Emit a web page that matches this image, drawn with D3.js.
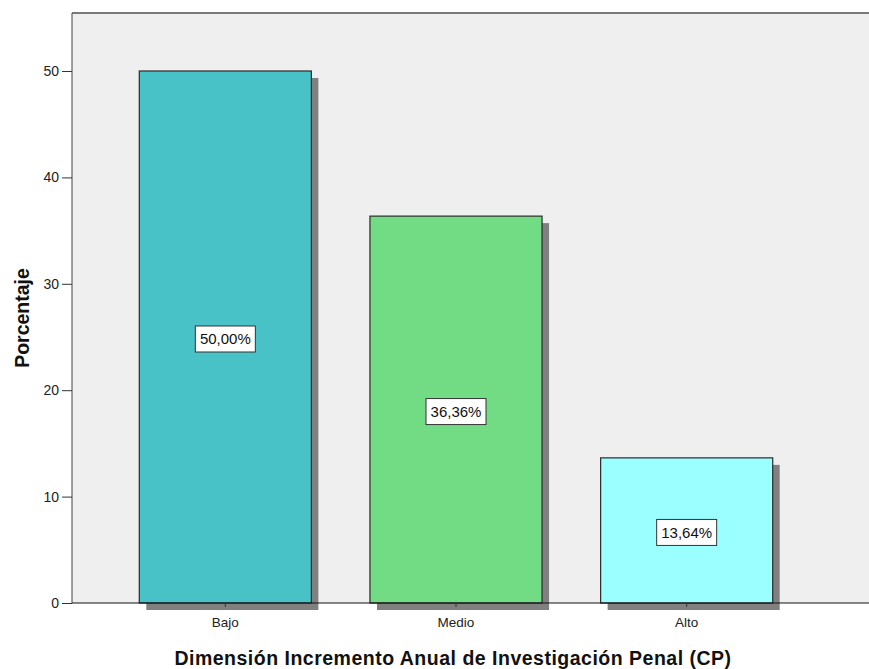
<!DOCTYPE html>
<html>
<head>
<meta charset="utf-8">
<script src="https://cdn.jsdelivr.net/npm/d3@7"></script>
<style>
  body { margin: 0; background: #fff; }
  text { font-family: "Liberation Sans", Arial, sans-serif; }
</style>
</head>
<body>
<div id="chart"></div>
<script>
// datos
const categories = ["Bajo", "Medio", "Alto"]
const percents = [50.0, 36.36, 13.64]
const labels = ["50,00%", "36,36%", "13,64%"]
const colors = ["#48c2c6", "#72dc84", "#9bffff"]
const yTicks = [0, 10, 20, 30, 40, 50]

const width = 869, height = 669
const plot = { left: 72, right: 869, top: 13, bottom: 603 }

const svg = d3.select("#chart").append("svg")
  .attr("width", width)
  .attr("height", height)

// fondo del área de gráfico
svg.append("rect")
  .attr("x", plot.left)
  .attr("y", plot.top)
  .attr("width", plot.right - plot.left)
  .attr("height", plot.bottom - plot.top)
  .attr("fill", "#efefef")

// borde superior
svg.append("line")
  .attr("x1", plot.left).attr("x2", plot.right)
  .attr("y1", plot.top).attr("y2", plot.top)
  .attr("stroke", "#7a7a7a")
  .attr("stroke-width", 2)

const y = d3.scaleLinear()
  .domain([0, 55.45])
  .range([plot.bottom, plot.top])

const x = d3.scaleBand()
  .domain(categories)
  .range([110, 802])
  .paddingInner(0.254)
  .paddingOuter(0.127)

const shadow = 7

// sombras
svg.selectAll(".shadow")
  .data(percents)
  .enter()
  .append("rect")
  .attr("class", "shadow")
  .attr("x", (d, i) => x(categories[i]) + shadow)
  .attr("y", d => y(d) + shadow)
  .attr("width", x.bandwidth())
  .attr("height", d => y(0) - y(d))
  .attr("fill", "#808080")

// barras
svg.selectAll(".bar")
  .data(percents)
  .enter()
  .append("rect")
  .attr("class", "bar")
  .attr("x", (d, i) => x(categories[i]))
  .attr("y", d => y(d))
  .attr("width", x.bandwidth())
  .attr("height", d => y(0) - y(d))
  .attr("fill", (d, i) => colors[i])
  .attr("stroke", "#2b2b2b")
  .attr("stroke-width", 1.2)

// etiquetas de porcentaje
const lab = svg.selectAll(".lab")
  .data(percents)
  .enter()
  .append("g")
  .attr("class", "lab")
  .attr("transform", (d, i) =>
    `translate(${x(categories[i]) + x.bandwidth() / 2},${(y(d) + y(0)) / 2 + 2})`)
lab.append("rect")
  .attr("x", -30).attr("y", -13)
  .attr("width", 60).attr("height", 26)
  .attr("fill", "#fff")
  .attr("stroke", "#333")
  .attr("stroke-width", 1)
lab.append("text")
  .text((d, i) => labels[i])
  .attr("text-anchor", "middle")
  .attr("dy", "0.36em")
  .attr("font-size", "15px")
  .attr("fill", "#111")

// eje Y
const yAxis = d3.axisLeft(y).tickValues(yTicks).tickSize(10).tickPadding(3)
const gy = svg.append("g")
  .attr("transform", `translate(${plot.left},0)`)
  .call(yAxis)
gy.select(".domain").attr("stroke", "#444").attr("d", `M0,${plot.top}V${plot.bottom}`)
gy.selectAll(".tick line").attr("stroke", "#333")
gy.selectAll(".tick text")
  .attr("font-size", "14px")
  .attr("fill", "#222")
  .attr("font-family", "Liberation Sans, Arial, sans-serif")

// eje X
const xAxis = d3.axisBottom(x).tickSize(4).tickPadding(10)
const gx = svg.append("g")
  .attr("transform", `translate(0,${plot.bottom})`)
  .call(xAxis)
gx.select(".domain").attr("d", `M${plot.left},0H${plot.right}`).attr("stroke", "#111")
gx.selectAll(".tick line").attr("stroke", "#333")
gx.selectAll(".tick text")
  .attr("font-size", "13.5px")
  .attr("fill", "#222")
  .attr("font-family", "Liberation Sans, Arial, sans-serif")

// títulos de los ejes
svg.append("text")
  .text("Dimensión Incremento Anual de Investigación Penal (CP)")
  .attr("x", 453)
  .attr("y", 665)
  .attr("text-anchor", "middle")
  .attr("font-size", "19.5px")
  .attr("letter-spacing", "0.5px")
  .attr("font-weight", "bold")
  .attr("fill", "#111")

svg.append("text")
  .text("Porcentaje")
  .attr("transform", "translate(29,318) rotate(-90)")
  .attr("text-anchor", "middle")
  .attr("font-size", "19.5px")
  .attr("font-weight", "bold")
  .attr("fill", "#111")
</script>
</body>
</html>
